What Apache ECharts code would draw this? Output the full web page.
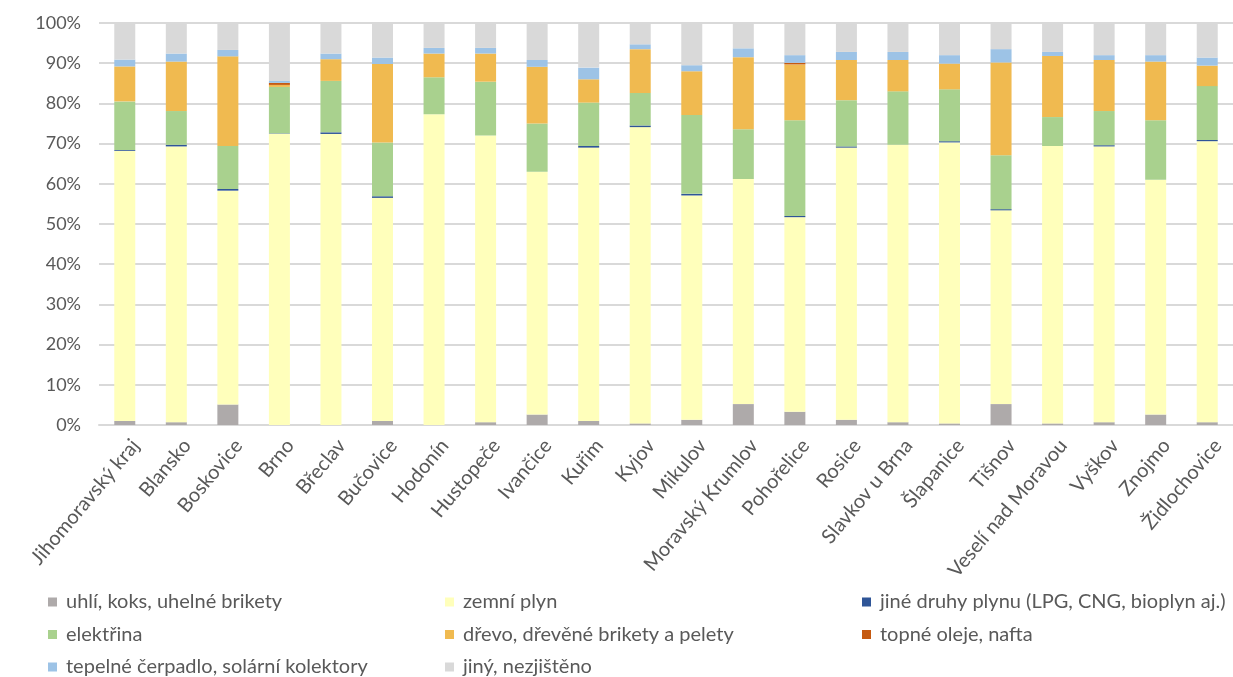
<!DOCTYPE html>
<html>
<head>
<meta charset="utf-8">
<script src="https://cdn.jsdelivr.net/npm/echarts@6/dist/echarts.min.js"></script>
<style>
html,body{margin:0;padding:0;background:#fff;}
#chart{width:1233px;height:677px;}
</style>
</head>
<body>
<div id="chart"></div>
<script>
// kategorie (ORP)
var obce = ['Jihomoravský kraj','Blansko','Boskovice','Brno','Břeclav','Bučovice','Hodonín','Hustopeče','Ivančice','Kuřim','Kyjov','Mikulov','Moravský Krumlov','Pohořelice','Rosice','Slavkov u Brna','Šlapanice','Tišnov','Veselí nad Moravou','Vyškov','Znojmo','Židlochovice'];
var yTicks = [0,10,20,30,40,50,60,70,80,90,100];

// podíly v %
var uhli    = [1.0,0.7,5.1,0,0,1.0,0,0.7,2.6,1.0,0.4,1.3,5.2,3.3,1.3,0.7,0.4,5.2,0.4,0.7,2.6,0.7];
var plyn    = [67.2,68.6,53.2,72.5,72.4,55.5,77.3,71.3,60.4,68.0,73.7,55.8,56.0,48.4,67.7,69.0,69.9,48.2,69.0,68.6,58.4,69.9];
var jinyPlyn= [0.2,0.4,0.4,0.1,0.4,0.4,0,0,0,0.4,0.4,0.4,0,0.3,0.3,0,0.3,0.3,0,0.3,0,0.3];
var elektr  = [12.1,8.4,10.7,11.5,12.8,13.4,9.2,13.4,12.0,10.8,8.1,19.6,12.4,23.8,11.5,13.3,12.9,13.4,7.2,8.5,14.8,13.4];
var drevo   = [8.7,12.3,22.3,0.5,5.4,19.5,5.9,7.0,14.1,5.8,10.9,10.9,17.9,13.9,10.0,7.8,6.4,23.1,15.2,12.7,14.6,5.1];
var oleje   = [0,0,0,0.5,0,0,0,0,0,0,0,0,0,0.4,0,0,0,0,0,0,0,0];
var cerpadlo= [1.7,2.0,1.6,0.5,1.4,1.6,1.4,1.4,1.7,2.9,1.2,1.5,2.2,1.9,2.0,2.0,2.1,3.3,1.0,1.2,1.6,2.0];
var jiny    = [9.1,7.6,6.7,14.4,7.6,8.6,6.2,6.2,9.2,11.1,5.3,10.5,6.3,8.0,7.2,7.2,8.0,6.5,7.2,8.0,8.0,8.6];

var nazvy = ['uhlí, koks, uhelné brikety','zemní plyn','jiné druhy plynu (LPG, CNG, bioplyn aj.)','elektřina','dřevo, dřevěné brikety a pelety','topné oleje, nafta','tepelné čerpadlo, solární kolektory','jiný, nezjištěno'];
var barvy = ['#AEAAAA','#FFFFBB','#2F5597','#A9D18E','#F0BA50','#C55A11','#9DC3E6','#D9D9D9'];
var data = [uhli,plyn,jinyPlyn,elektr,drevo,oleje,cerpadlo,jiny];

var font = 'Lato, "Liberation Sans", sans-serif';
var series = [];
for (var i = 0; i < data.length; i++) {
	series.push({
		name: nazvy[i],
		type: 'bar',
		stack: 'celkem',
		barWidth: 21,
		itemStyle: {color: barvy[i]},
		data: data[i]
	});
}

//legenda po sloupcich
function legenda(left, items){
	return {
		left: left,
		top: 592,
		height: 120,
		padding: 0,
		orient: 'vertical',
		itemWidth: 9,
		itemHeight: 9,
		itemGap: 12.5,
		icon: 'rect',
		textStyle: {color: '#595959', fontSize: 20, lineHeight: 20, fontFamily: font, padding: [0,0,0,4]},
		data: items
	};
}

var chart = echarts.init(document.getElementById('chart'));
var option = {
	backgroundColor: '#fff',
	animation: false,
	grid: {left: 99, top: 23, width: 1139, bottom: 252},
	legend: [
		legenda(48, [nazvy[0], nazvy[3], nazvy[6]]),
		legenda(445, [nazvy[1], nazvy[4], nazvy[7]]),
		legenda(862, [nazvy[2], nazvy[5]])
	],
	xAxis: {
		type: 'category',
		data: obce,
		axisLine: {lineStyle: {color: '#D9D9D9', width: 2}},
		axisTick: {show: false},
		axisLabel: {
			rotate: 50,
			interval: 0,
			margin: 8,
			verticalAlign: 'top',
			padding: [4,0,0,0],
			color: '#595959',
			fontSize: 20,
			fontFamily: font
		}
	},
	yAxis: {
		type: 'value',
		min: yTicks[0],
		max: yTicks[yTicks.length - 1],
		interval: 10,
		axisLine: {show: false},
		axisTick: {show: false},
		axisLabel: {
			color: '#595959',
			fontSize: 18,
			fontFamily: font,
			margin: 18,
			formatter: '{value}%'
		},
		splitLine: {lineStyle: {color: '#D9D9D9', width: 2}}
	},
	series: series
};
chart.setOption(option);
</script>
</body>
</html>
